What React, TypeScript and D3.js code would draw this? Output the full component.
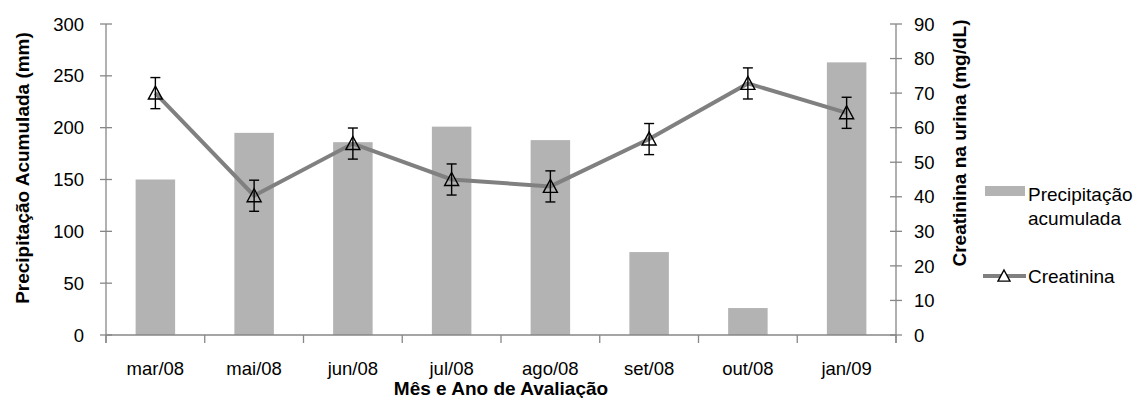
import React from "react";
import * as d3 from "d3";

const months = ["mar/08", "mai/08", "jun/08", "jul/08", "ago/08", "set/08", "out/08", "jan/09"];
const precipitacao = [150, 195, 186, 201, 188, 80, 26, 263];
const creatinina = [70, 40.3, 55.4, 45, 43, 56.7, 72.8, 64.3];
const erro = [4.5, 4.5, 4.5, 4.5, 4.5, 4.5, 4.5, 4.5];
const leftTicks = [0, 50, 100, 150, 200, 250, 300];
const rightTicks = [0, 10, 20, 30, 40, 50, 60, 70, 80, 90];

const W = 1145, H = 398;
const margin = { top: 24, left: 106, right: 249, bottom: 63 };
const font = "'Liberation Sans', Arial, sans-serif";
const axisColor = "#878787";

const tri = (cx: number, cy: number, s = 7) =>
  `M${cx},${cy - s} L${cx + s},${cy + s * 0.85} L${cx - s},${cy + s * 0.85} Z`;

export default function App() {
  const x0 = margin.left, x1 = W - margin.right;
  const y0 = H - margin.bottom, y1 = margin.top;

  const x = d3.scaleBand().domain(months).range([x0, x1]).padding(0);
  const yL = d3.scaleLinear().domain([0, 300]).range([y0, y1]);
  const yR = d3.scaleLinear().domain([0, 90]).range([y0, y1]);
  const barW = x.bandwidth() * 0.4;
  const cx = (m: string) => (x(m) as number) + x.bandwidth() / 2;

  const line = d3.line<number>()
    .x((_, i) => cx(months[i]))
    .y(d => yR(d));

  const edges = [...months.map(m => x(m) as number), x1];

  return (
    <svg width={W} height={H} style={{ position: "absolute", left: 0, top: 0, background: "#fff" }}
      fontFamily={font}>
      {/* bars */}
      {months.map((m, i) => (
        <rect key={m} x={cx(m) - barW / 2} y={yL(precipitacao[i])} width={barW}
          height={y0 - yL(precipitacao[i])} fill="#b3b3b3" />
      ))}

      {/* axes */}
      <g stroke={axisColor} strokeWidth={1.3}>
        <line x1={x0} x2={x0} y1={y1} y2={y0 + 8} />
        <line x1={x1} x2={x1} y1={y1} y2={y0 + 8} />
        <line x1={x0} x2={x1} y1={y0} y2={y0} />
        {leftTicks.map(t => (
          <line key={"l" + t} x1={x0 - 6} x2={x0 + 6} y1={yL(t)} y2={yL(t)} />
        ))}
        {rightTicks.map(t => (
          <line key={"r" + t} x1={x1 - 6} x2={x1 + 6} y1={yR(t)} y2={yR(t)} />
        ))}
        {edges.map((e, i) => (
          <line key={"x" + i} x1={e} x2={e} y1={y0} y2={y0 + 8} />
        ))}
      </g>

      {/* tick labels */}
      <g fontSize={18.5} fill="#000">
        {leftTicks.map(t => (
          <text key={"lt" + t} x={84} y={yL(t)} dy="0.36em" textAnchor="end">{t}</text>
        ))}
        {rightTicks.map(t => (
          <text key={"rt" + t} x={914} y={yR(t)} dy="0.36em" textAnchor="start">{t}</text>
        ))}
        {months.map(m => (
          <text key={"xt" + m} x={cx(m)} y={375} textAnchor="middle">{m}</text>
        ))}
      </g>

      {/* axis titles */}
      <g fontSize={19} fontWeight="bold" fill="#000">
        <text x={(x0 + x1) / 2} y={395} textAnchor="middle">Mês e Ano de Avaliação</text>
        <text transform="translate(29,168) rotate(-90)" textAnchor="middle">Precipitação Acumulada  (mm)</text>
        <text transform="translate(966,143) rotate(-90)" textAnchor="middle">Creatinina na urina (mg/dL)</text>
      </g>

      {/* line */}
      <path d={line(creatinina) || ""} fill="none" stroke="#808080" strokeWidth={4} />

      {/* error bars */}
      <g stroke="#000" strokeWidth={1.4}>
        {months.map((m, i) => {
          const c = cx(m), top = yR(creatinina[i] + erro[i]), bot = yR(creatinina[i] - erro[i]);
          return (
            <g key={"e" + m}>
              <line x1={c} x2={c} y1={top} y2={bot} />
              <line x1={c - 5} x2={c + 5} y1={top} y2={top} />
              <line x1={c - 5} x2={c + 5} y1={bot} y2={bot} />
            </g>
          );
        })}
      </g>

      {/* markers */}
      {months.map((m, i) => (
        <path key={"m" + m} d={tri(cx(m), yR(creatinina[i]))} fill="none" stroke="#000" strokeWidth={1.4} />
      ))}

      {/* legend */}
      <rect x={985} y={186} width={40} height={10} fill="#b3b3b3" />
      <text x={1028} y={201} fontSize={19}>Precipitação</text>
      <text x={1028} y={225} fontSize={19}>acumulada</text>
      <line x1={983} x2={1026} y1={276} y2={276} stroke="#808080" strokeWidth={4} />
      <path d={tri(1004, 276, 6)} fill="#fff" stroke="#000" strokeWidth={1.4} />
      <text x={1028} y={283} fontSize={19}>Creatinina</text>
    </svg>
  );
}
